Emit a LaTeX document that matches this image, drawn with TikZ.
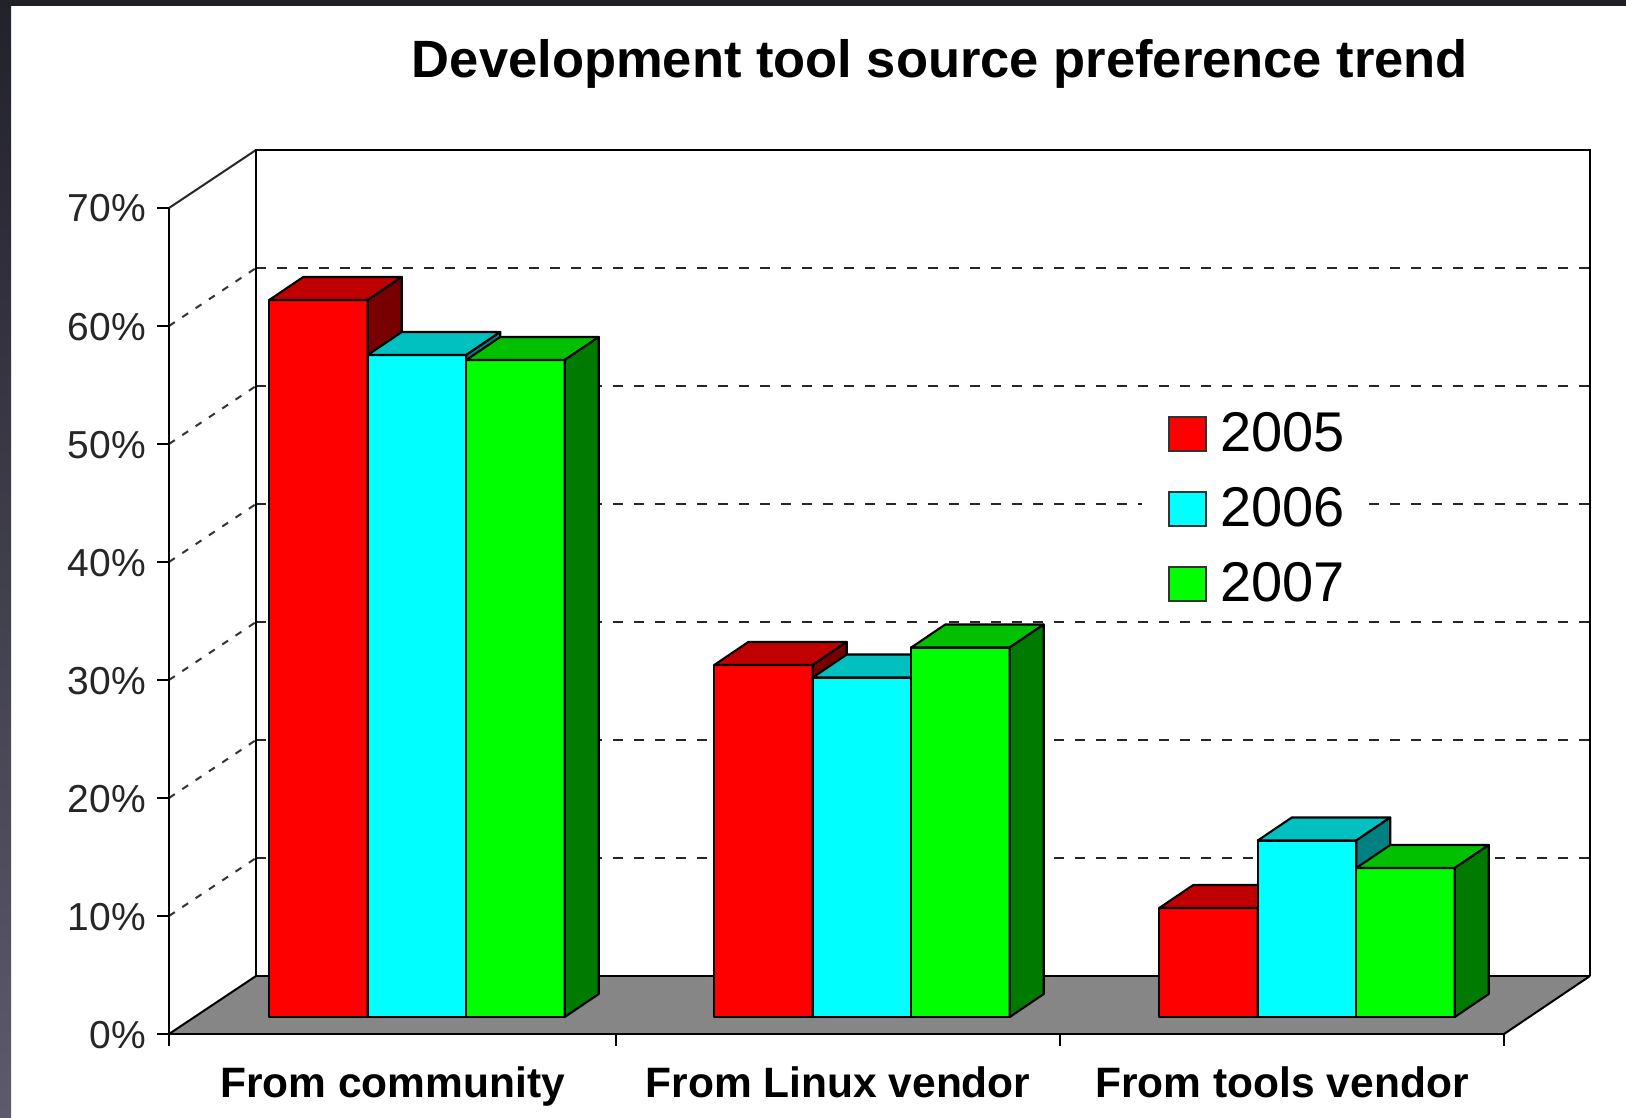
\documentclass[tikz,border=0pt]{standalone}
\usepackage{fontspec}
\setmainfont{Liberation Sans}
\definecolor{frametop}{HTML}{1F1F26}
\definecolor{frameleftA}{HTML}{22222A}
\definecolor{frameleftB}{HTML}{5C5A6C}
\definecolor{floorgray}{HTML}{868686}
\definecolor{redF}{HTML}{FF0000}
\definecolor{redT}{HTML}{C00000}
\definecolor{redS}{HTML}{780000}
\definecolor{cyanF}{HTML}{00FFFF}
\definecolor{cyanT}{HTML}{00C0C0}
\definecolor{cyanS}{HTML}{008080}
\definecolor{greenF}{HTML}{00FF00}
\definecolor{greenT}{HTML}{00C000}
\definecolor{greenS}{HTML}{007A00}
\tikzset{
  wallline/.style={line width=2.6pt, black},
  gridline/.style={line width=2.5pt, black!85, dash pattern=on 10pt off 11pt},
  depthline/.style={line width=2pt, black!80, dash pattern=on 7pt off 9pt},
  barline/.style={draw=black, line width=2.1pt, line join=round},
  ylab/.style={inner sep=0pt, font=\fontsize{39}{44}\selectfont, text=black!85},
  catlab/.style={inner sep=0pt, font=\fontsize{42.5}{48}\selectfont\bfseries},
  leglab/.style={inner sep=0pt, font=\fontsize{56}{62}\selectfont},
  legsq/.style={draw=black!80, line width=2pt}
}
\newcommand\barbox[5]{%
  \filldraw[barline, fill=#3] (#1,1017) rectangle ({#1+98.5},#2);
  \filldraw[barline, fill=#4] (#1,#2) -- ++(34,-23) -- ++(98.5,0) -- ++(-34,23) -- cycle;
  \filldraw[barline, fill=#5] ({#1+98.5},#2) -- ++(34,-23) -- ({#1+132.5},994) -- ({#1+98.5},1017) -- cycle;
}
\begin{document}
\begin{tikzpicture}[x=1pt,y=-1pt]
\useasboundingbox (0,0) rectangle (1626,1118);
% background and frame
\fill[white] (0,0) rectangle (1626,1118);
\fill[frametop] (0,0) rectangle (1626,6);
\shade[top color=frameleftA, bottom color=frameleftB] (0,0) rectangle (11,1118);
% title
\node[anchor=base, inner sep=0pt, font=\fontsize{52.5}{60}\selectfont\bfseries] (title) at (940,78) {Development tool source preference trend};
% back wall gridlines
\foreach \v in {1,...,6} {
  \draw[gridline] (256,{976-118*\v}) -- (1590,{976-118*\v});
  \draw[depthline] (169,{1034-118*\v}) -- (256,{976-118*\v});
}
\draw[line width=2pt, black!85] (169,208) -- (256,150);
% back wall frame
\draw[wallline] (256,976) -- (256,150) -- (1590,150) -- (1590,976);
% floor
\fill[floorgray] (169,1034) -- (256,976) -- (1590,976) -- (1504,1034) -- cycle;
\draw[wallline] (256,976) -- (1590,976);
\draw[line width=2pt] (169,1034) -- (256,976);
\draw[line width=2pt] (1504,1034) -- (1590,976);
\draw[wallline] (169,1034) -- (1504,1034);
\foreach \x in {169,616,1060,1504} \draw[wallline] (\x,1034) -- (\x,1046);
% bars: From community
\barbox{269.25}{300}{redF}{redT}{redS}
\barbox{367.75}{355}{cyanF}{cyanT}{cyanS}
\barbox{466.25}{360}{greenF}{greenT}{greenS}
% bars: From Linux vendor
\barbox{714.25}{665}{redF}{redT}{redS}
\barbox{812.75}{677.5}{cyanF}{cyanT}{cyanS}
\barbox{911.25}{647.5}{greenF}{greenT}{greenS}
% bars: From tools vendor
\barbox{1159.25}{908}{redF}{redT}{redS}
\barbox{1257.75}{840.5}{cyanF}{cyanT}{cyanS}
\barbox{1356.25}{868}{greenF}{greenT}{greenS}
% legend
\fill[white] (1142,398) rectangle (1362,612);
\filldraw[legsq, fill=redF] (1169,417) rectangle (1206,451);
\filldraw[legsq, fill=cyanF] (1169,492) rectangle (1206,526);
\filldraw[legsq, fill=greenF] (1169,567) rectangle (1206,601);
\node[leglab, anchor=base west] (l2005) at (1220,451) {2005};
\node[leglab, anchor=base west] (l2006) at (1220,526) {2006};
\node[leglab, anchor=base west] (l2007) at (1220,601) {2007};
% front value axis
\draw[wallline] (169,208) -- (169,1034);
\foreach \v in {0,...,7} {
  \draw[wallline] (157,{1034-118*\v}) -- (169,{1034-118*\v});
  \pgfmathtruncatemacro\pc{10*\v}
  \node[ylab, anchor=base east] (y\v) at (146,{1034-118*\v+14}) {\pc\%};
}
% category labels
\node[catlab, anchor=base] (c1) at (392.5,1097) {From community};
\node[catlab, anchor=base] (c2) at (838,1097) {From Linux vendor};
\node[catlab, anchor=base] (c3) at (1282,1097) {From tools vendor};
\end{tikzpicture}
\end{document}
